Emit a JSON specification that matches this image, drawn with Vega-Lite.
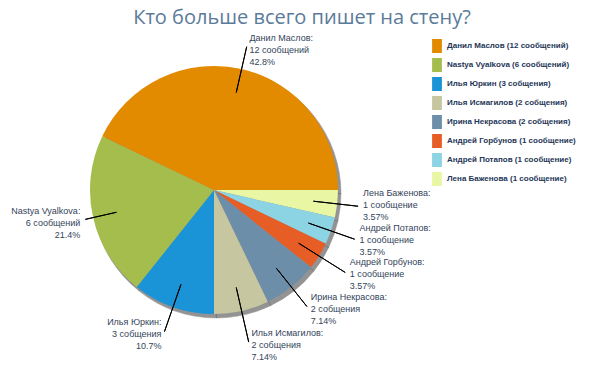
{
  "$schema": "https://vega.github.io/schema/vega-lite/v6.json",
  "width": 604,
  "height": 378,
  "autosize": {"type": "none"},
  "padding": 0,
  "background": "white",
  "title": {
    "text": "Кто больше всего пишет на стену?",
    "anchor": "middle",
    "offset": -28,
    "font": "Open Sans",
    "fontSize": 20,
    "fontWeight": "normal",
    "color": "#5B7B9A"
  },
  "config": {
    "view": {"stroke": null},
    "text": {"font": "Liberation Sans", "fontSize": 9, "lineHeight": 12, "lineBreak": "\n", "color": "#33445A", "baseline": "middle", "x": 214, "y": 190},
    "arc": {"x": 214, "y": 190},
    "legend": {
      "orient": "none",
      "legendX": 430,
      "legendY": 39,
      "padding": 0,
      "symbolType": "M-0.7,-1H0.7V1H-0.7Z",
      "symbolSize": 196,
      "symbolStrokeWidth": 0,
      "symbolOpacity": 1,
      "rowPadding": 5,
      "labelOffset": 3,
      "labelFont": "Liberation Sans",
      "labelFontSize": 8,
      "labelFontWeight": "bold",
      "labelColor": "#1E3656",
      "labelLimit": 200
    }
  },
  "data": {
    "values": [
      {"name": "Лена Баженова", "count": 1, "legend": "Лена Баженова (1 сообщение)", "callout": "Лена Баженова:\n1 сообщение\n3.57%"},
      {"name": "Андрей Потапов", "count": 1, "legend": "Андрей Потапов (1 сообщение)", "callout": "Андрей Потапов:\n1 сообщение\n3.57%"},
      {"name": "Андрей Горбунов", "count": 1, "legend": "Андрей Горбунов (1 сообщение)", "callout": "Андрей Горбунов:\n1 сообщение\n3.57%"},
      {"name": "Ирина Некрасова", "count": 2, "legend": "Ирина Некрасова (2 собщения)", "callout": "Ирина Некрасова:\n2 собщения\n7.14%"},
      {"name": "Илья Исмагилов", "count": 2, "legend": "Илья Исмагилов (2 собщения)", "callout": "Илья Исмагилов:\n2 собщения\n7.14%"},
      {"name": "Илья Юркин", "count": 3, "legend": "Илья Юркин (3 собщения)", "callout": "Илья Юркин:\n3 собщения\n10.7%"},
      {"name": "Nastya Vyalkova", "count": 6, "legend": "Nastya Vyalkova (6 сообщений)", "callout": "Nastya Vyalkova:\n6 сообщений\n21.4%"},
      {"name": "Данил Маслов", "count": 12, "legend": "Данил Маслов (12 сообщений)", "callout": "Данил Маслов:\n12 сообщений\n42.8%"}
    ]
  },
  "encoding": {
    "theta": {"field": "count", "type": "quantitative", "stack": true, "scale": {"range": [1.5708, 7.854]}},
    "order": {"field": "count", "sort": "ascending"}
  },
  "layer": [
    {
      "mark": {"type": "arc", "x": 216.5, "y": 193.5, "radius": 124.5, "fill": "#2a2a2a", "stroke": "#2a2a2a", "strokeWidth": 0.5, "opacity": 0.5}
    },
    {
      "mark": {"type": "arc", "radius": 124},
      "encoding": {
        "color": {
          "field": "legend",
          "type": "nominal",
          "title": null,
          "scale": {
            "domain": ["Данил Маслов (12 сообщений)", "Nastya Vyalkova (6 сообщений)", "Илья Юркин (3 собщения)", "Илья Исмагилов (2 собщения)", "Ирина Некрасова (2 собщения)", "Андрей Горбунов (1 сообщение)", "Андрей Потапов (1 сообщение)", "Лена Баженова (1 сообщение)"],
            "range": ["#E28A00", "#A5BD4C", "#1A94D6", "#C6C6A0", "#6C8EA8", "#E65E26", "#8CD3E3", "#E9F6A4"]
          }
        }
      }
    },
    {
      "mark": {"type": "arc", "radius": 145, "radius2": 100, "padAngle": 3.1416, "fill": "transparent", "stroke": "#000000", "strokeWidth": 1},
      "encoding": {"strokeOpacity": {"condition": {"test": "datum.name === 'Лена Баженова'", "value": 1}, "value": 0}}
    },
    {
      "mark": {"type": "arc", "radius": 147, "radius2": 100, "padAngle": 3.1416, "fill": "transparent", "stroke": "#000000", "strokeWidth": 1},
      "encoding": {"strokeOpacity": {"condition": {"test": "datum.name === 'Данил Маслов'", "value": 1}, "value": 0}}
    },
    {
      "mark": {"type": "arc", "radius": 149, "radius2": 100, "padAngle": 3.1416, "fill": "transparent", "stroke": "#000000", "strokeWidth": 1},
      "encoding": {"strokeOpacity": {"condition": {"test": "datum.name === 'Андрей Потапов' || datum.name === 'Ирина Некрасова'", "value": 1}, "value": 0}}
    },
    {
      "mark": {"type": "arc", "radius": 155, "radius2": 100, "padAngle": 3.1416, "fill": "transparent", "stroke": "#000000", "strokeWidth": 1},
      "encoding": {"strokeOpacity": {"condition": {"test": "datum.name === 'Андрей Горбунов'", "value": 1}, "value": 0}}
    },
    {
      "mark": {"type": "arc", "radius": 156, "radius2": 100, "padAngle": 3.1416, "fill": "transparent", "stroke": "#000000", "strokeWidth": 1},
      "encoding": {"strokeOpacity": {"condition": {"test": "datum.name === 'Илья Исмагилов'", "value": 1}, "value": 0}}
    },
    {
      "mark": {"type": "arc", "radius": 132, "radius2": 100, "padAngle": 3.1416, "fill": "transparent", "stroke": "#000000", "strokeWidth": 1},
      "encoding": {"strokeOpacity": {"condition": {"test": "datum.name === 'Nastya Vyalkova'", "value": 1}, "value": 0}}
    },
    {
      "mark": {"type": "arc", "radius": 150, "radius2": 100, "padAngle": 3.1416, "fill": "transparent", "stroke": "#000000", "strokeWidth": 1},
      "encoding": {"strokeOpacity": {"condition": {"test": "datum.name === 'Илья Юркин'", "value": 1}, "value": 0}}
    },
    {
      "mark": {"type": "text", "radius": 148, "align": "left", "dx": 2, "dy": -14},
      "encoding": {
        "text": {"field": "callout", "type": "nominal"},
        "opacity": {"condition": {"test": "datum.name === 'Лена Баженова'", "value": 1}, "value": 0}
      }
    },
    {
      "mark": {"type": "text", "radius": 150, "align": "left", "dx": 2, "dy": -6},
      "encoding": {
        "text": {"field": "callout", "type": "nominal"},
        "opacity": {"condition": {"test": "datum.name === 'Данил Маслов'", "value": 1}, "value": 0}
      }
    },
    {
      "mark": {"type": "text", "radius": 152, "align": "left", "dx": 2, "dy": -12},
      "encoding": {
        "text": {"field": "callout", "type": "nominal"},
        "opacity": {"condition": {"test": "datum.name === 'Андрей Потапов' || datum.name === 'Ирина Некрасова'", "value": 1}, "value": 0}
      }
    },
    {
      "mark": {"type": "text", "radius": 158, "align": "left", "dx": 2, "dy": -12},
      "encoding": {
        "text": {"field": "callout", "type": "nominal"},
        "opacity": {"condition": {"test": "datum.name === 'Андрей Горбунов'", "value": 1}, "value": 0}
      }
    },
    {
      "mark": {"type": "text", "radius": 159, "align": "left", "dx": 2, "dy": -12},
      "encoding": {
        "text": {"field": "callout", "type": "nominal"},
        "opacity": {"condition": {"test": "datum.name === 'Илья Исмагилов'", "value": 1}, "value": 0}
      }
    },
    {
      "mark": {"type": "text", "radius": 135, "align": "right", "dx": -2, "dy": -9},
      "encoding": {
        "text": {"field": "callout", "type": "nominal"},
        "opacity": {"condition": {"test": "datum.name === 'Nastya Vyalkova'", "value": 1}, "value": 0}
      }
    },
    {
      "mark": {"type": "text", "radius": 153, "align": "right", "dx": -2, "dy": -12},
      "encoding": {
        "text": {"field": "callout", "type": "nominal"},
        "opacity": {"condition": {"test": "datum.name === 'Илья Юркин'", "value": 1}, "value": 0}
      }
    }
  ]
}
